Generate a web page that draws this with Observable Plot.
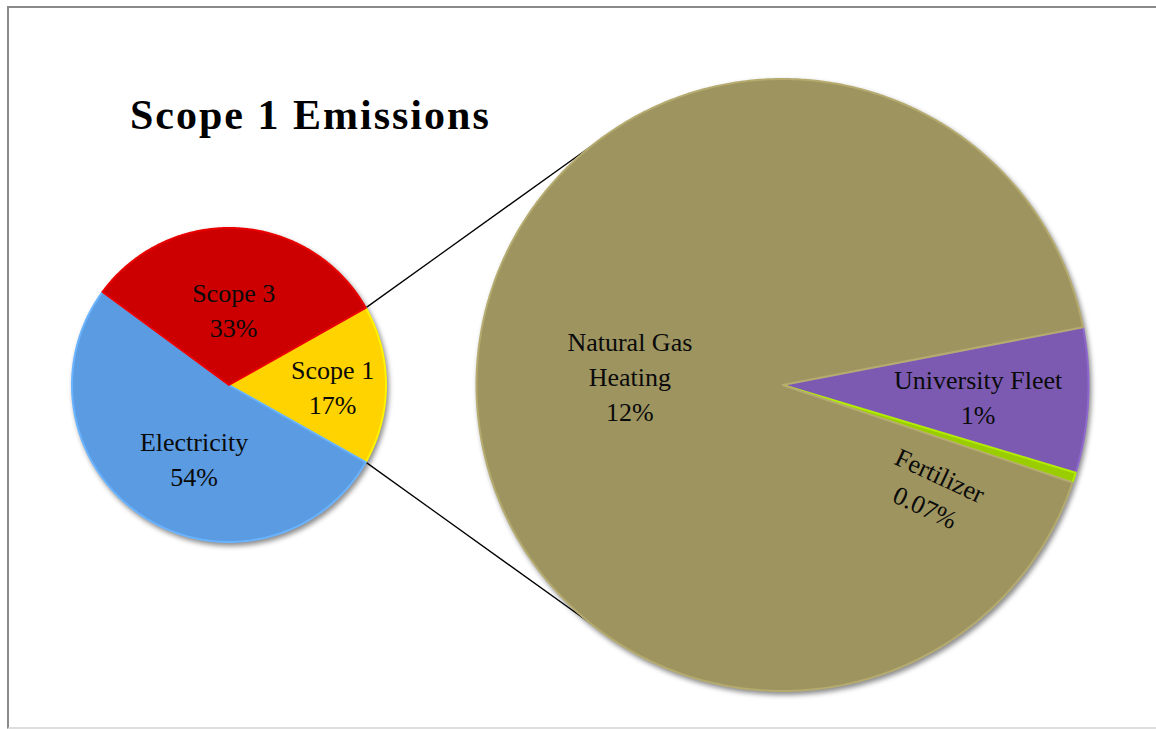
<!DOCTYPE html>
<html>
<head>
<meta charset="utf-8">
<script src="https://cdn.jsdelivr.net/npm/d3@7"></script>
<script src="https://cdn.jsdelivr.net/npm/@observablehq/plot@0.6"></script>
<style>
  html, body { margin: 0; padding: 0; background: #fff; }
  #chart { position: relative; width: 1156px; height: 729px; overflow: hidden; font-family: "Liberation Serif", serif; }
  #frame { position: absolute; left: 7px; top: 6px; right: -10px; bottom: 0; border-left: 2px solid #8a8a8a; border-top: 2px solid #8a8a8a; border-bottom: 2px solid #dedede; }
  #title { position: absolute; left: 130px; top: 94px; font-weight: bold; font-size: 42px; line-height: 1; letter-spacing: 2px; color: #000; white-space: nowrap; }
  #chart svg { position: absolute; left: 0; top: 0; }
</style>
</head>
<body>
<div id="chart">
  <div id="frame"></div>
  <div id="title">Scope 1 Emissions</div>
</div>
<script>
// Share of total emissions by scope (primary pie), clockwise from the split slice
const scopeNames = ["Scope 1", "Electricity", "Scope 3"];
const scopeShares = [17, 54, 33];
const scopeColors = ["#FFD300", "#5B9BE2", "#CC0000"];

// Scope 1 sources (secondary pie), clockwise from University Fleet
const sourceNames = ["University Fleet", "Fertilizer", "Natural Gas\nHeating"];
const sourceShares = [1, 0.07, 12];
const sourceColors = ["#7C5AB2", "#9ACD00", "#9D9460"];

// ---- layout ----
const W = 1156, H = 729;
const deg = Math.PI / 180;
const primary = {cx: 228.5, cy: 384.5, r: 157};
const secondary = {cx: 782, cy: 384.5, r: 306};

// label distance from the centre (fraction of radius) and angular nudge
const scopeLabelPlace = [{f: 0.66, turn: 0}, {f: 0.51, turn: -7}, {f: 0.49, turn: 0}];
const sourceLabelPlace = [{f: 0.64, turn: 0}, {f: 0.6, turn: 17}, {f: 0.5, turn: 0}];

function pieArcs(values, start) {
  return d3.pie().sort(null).startAngle(start).endAngle(start + 2 * Math.PI)(values);
}
function polar(c, a, r = c.r) {
  return {x: c.cx + r * Math.sin(a), y: c.cy - r * Math.cos(a)};
}
function wedge(arc, c) {
  const pts = [{x: c.cx, y: c.cy}];
  const span = arc.endAngle - arc.startAngle;
  const n = Math.max(2, Math.ceil(span / (0.5 * deg)));
  for (let i = 0; i <= n; ++i) pts.push(polar(c, arc.startAngle + span * i / n));
  return pts;
}

// the split slice faces the secondary pie, centred on three o'clock
const scopeTotal = d3.sum(scopeShares);
const scopeArcs = pieArcs(scopeShares, Math.PI / 2 - Math.PI * scopeShares[0] / scopeTotal);

// the small sources sit together just below three o'clock
const sourceTotal = d3.sum(sourceShares);
const smallSpan = 2 * Math.PI * (sourceShares[0] + sourceShares[1]) / sourceTotal;
const sourceArcs = pieArcs(sourceShares, 93.85 * deg - smallSpan / 2);

// connector lines from the split slice to the secondary pie
const joinAngle = 38.7 * deg;
const s1 = scopeArcs[0];
const connectors = [
  [polar(primary, s1.startAngle), polar(secondary, -joinAngle)],
  [polar(primary, s1.endAngle), polar(secondary, Math.PI + joinAngle)]
].map(([a, b]) => ({x1: a.x, y1: a.y, x2: b.x, y2: b.y}));

function labelAt(arc, c, place) {
  const mid = (arc.startAngle + arc.endAngle) / 2 + place.turn * deg;
  return polar(c, mid, c.r * place.f);
}
const scopeLabels = scopeArcs.map((a, i) => ({
  ...labelAt(a, primary, scopeLabelPlace[i]),
  text: `${scopeNames[i]}\n${scopeShares[i]}%`
}));
const sourceLabels = sourceArcs.map((a, i) => ({
  ...labelAt(a, secondary, sourceLabelPlace[i]),
  text: `${sourceNames[i]}\n${sourceShares[i]}%`
}));

function sliceMarks(arcs, c, colors) {
  return arcs.map((a, i) => Plot.line(wedge(a, c), {
    x: "x", y: "y",
    curve: "linear-closed",
    fill: colors[i],
    stroke: d3.color(colors[i]).brighter(0.4).formatHex(),
    strokeWidth: 2,
    strokeLinejoin: "round"
  }));
}

const textStyle = {
  x: "x", y: "y", text: "text",
  fontFamily: "Liberation Serif, serif",
  fontSize: 26,
  lineHeight: 1.35,
  lineAnchor: "middle",
  fill: "#0a0a0a"
};

const chart = Plot.plot({
  width: W, height: H, margin: 0,
  x: {domain: [0, W], range: [0, W], axis: null},
  y: {domain: [0, H], range: [0, H], axis: null},
  style: {background: "transparent", overflow: "visible"},
  marks: [
    Plot.link(connectors, {x1: "x1", y1: "y1", x2: "x2", y2: "y2", stroke: "#000", strokeWidth: 1.3}),
    ...sliceMarks(scopeArcs, primary, scopeColors),
    ...sliceMarks(sourceArcs, secondary, sourceColors),
    Plot.text(scopeLabels, textStyle),
    Plot.text(sourceLabels.filter((d, i) => i !== 1), textStyle),
    Plot.text(sourceLabels.filter((d, i) => i === 1), {...textStyle, rotate: 25})
  ]
});

// group the slices of each pie so they cast one soft shadow together
const svg = d3.select(chart);
const sliceGroups = svg.selectAll('g[aria-label="line"]').nodes();
const nScope = scopeArcs.length;
[[0, nScope], [nScope, sliceGroups.length]].forEach(([from, to]) => {
  const g = svg.insert("g", 'g[aria-label="text"]')
    .style("filter", "drop-shadow(2px 3px 2.5px rgba(0,0,0,0.45))");
  sliceGroups.slice(from, to).forEach(n => g.node().appendChild(n));
});

document.getElementById("chart").appendChild(chart);
</script>
</body>
</html>
